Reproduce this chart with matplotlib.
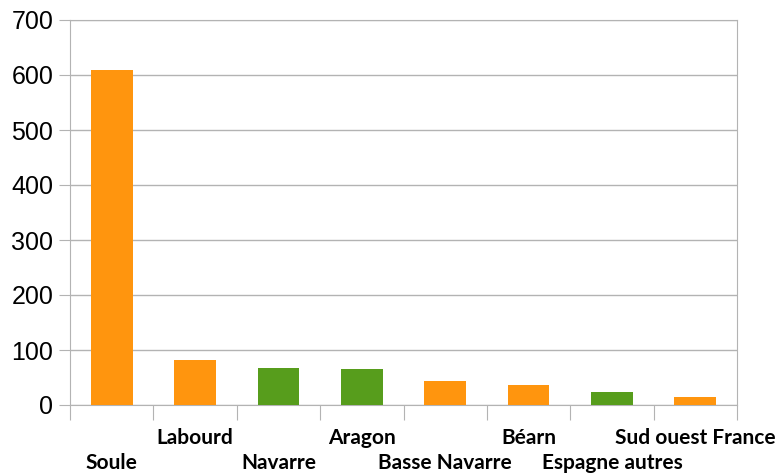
import numpy as np
import matplotlib.pyplot as plt

categories = ['Soule', 'Labourd', 'Navarre', 'Aragon', 'Basse Navarre',
              'Béarn', 'Espagne autres', 'Sud ouest France']
values = [609, 82, 67, 65, 44, 36, 24, 14]
groups = ['fr', 'fr', 'es', 'es', 'fr', 'fr', 'es', 'fr']  # côté France / Espagne

colors = {'fr': '#FF950E', 'es': '#579D1C'}
grid_c = '#b3b3b3'

fig = plt.figure(figsize=(7.77, 4.75), dpi=100)
ax = fig.add_axes([70/777, 70/475, 667/777, 385/475])

x = np.arange(len(categories))
ax.bar(x, values, width=0.5, color=[colors[g] for g in groups], zorder=3)

ax.set_xlim(-0.5, len(categories) - 0.5)
ax.set_ylim(0, 700)
ax.set_yticks(range(0, 701, 100))
ax.yaxis.grid(True, color=grid_c, lw=1)
ax.set_axisbelow(True)
for s in ax.spines.values():
    s.set_color(grid_c)
ax.tick_params(axis='y', colors=grid_c, length=8, labelcolor='black',
               labelsize=18, pad=4)
for lbl in ax.get_yticklabels():
    lbl.set_family('Liberation Sans')

# ticks entre les catégories, étiquettes décalées sur deux lignes
ax.set_xticks(np.arange(-0.5, len(categories)))
ax.set_xticklabels([])
ax.tick_params(axis='x', colors=grid_c, length=11)
for i, name in enumerate(categories):
    yy = -0.101 if i % 2 else -0.166
    ax.text(i, yy, name, transform=ax.get_xaxis_transform(), ha='center',
            va='baseline', fontsize=15, fontweight='bold', family='Lato')

fig.savefig('out.png', dpi=100)
